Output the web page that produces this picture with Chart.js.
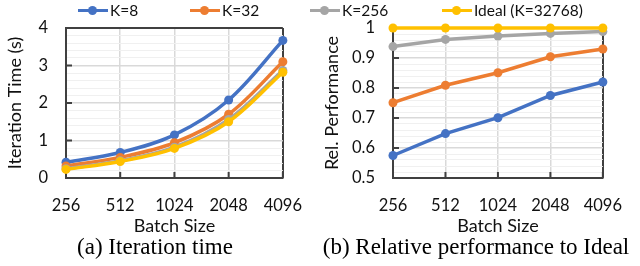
<!DOCTYPE html>
<html>
<head>
<meta charset="utf-8">
<script src="https://cdn.jsdelivr.net/npm/chart.js@4.4.1/dist/chart.umd.min.js"></script>
<style>
  html, body { margin: 0; padding: 0; background: #fff; }
  #fig { position: relative; width: 640px; height: 266px; overflow: hidden; font-family: Lato, sans-serif; }
  canvas { position: absolute; top: 0; }
  #legend { position: absolute; left: 0; top: 1px; width: 640px; height: 18px; font-size: 15.5px; color: #111; }
  .item { position: absolute; top: 0; display: flex; align-items: center; height: 18px; white-space: nowrap; }
  .swatch { position: relative; width: 30px; height: 3px; margin-right: 2px; }
  .swatch i { position: absolute; left: 10px; top: -3px; width: 9px; height: 9px; border-radius: 50%; background: inherit; }
  .cap { position: absolute; top: 234px; font-family: "Liberation Serif", serif; font-size: 23px; color: #000;
         white-space: nowrap; transform: translateX(-50%); }
</style>
</head>
<body>
<div id="fig">
  <canvas id="timeChart" width="320" height="240" style="left:0"></canvas>
  <canvas id="relChart" width="320" height="240" style="left:320px"></canvas>
  <div id="legend"></div>
  <div class="cap" style="left:155px">(a) Iteration time</div>
  <div class="cap" style="left:476px">(b) Relative performance to Ideal</div>
</div>
<script>
// batch sizes (x axis)
var batch_sizes = ["256", "512", "1024", "2048", "4096"];

// series names and colours
var series_names = ["K=8", "K=32", "K=256", "Ideal (K=32768)"];
var series_colors = ["#4472C4", "#ED7D31", "#A5A5A5", "#FFC000"];

// (a) iteration time in seconds
var time_k8 = [0.42, 0.68, 1.15, 2.08, 3.67];
var time_k32 = [0.32, 0.55, 0.94, 1.70, 3.10];
var time_k256 = [0.25, 0.46, 0.82, 1.56, 2.87];
var time_ideal = [0.23, 0.44, 0.79, 1.50, 2.82];

// (b) relative performance to ideal
var rel_k8 = [0.575, 0.648, 0.701, 0.775, 0.82];
var rel_k32 = [0.751, 0.809, 0.851, 0.904, 0.93];
var rel_k256 = [0.938, 0.962, 0.973, 0.982, 0.988];
var rel_ideal = [1, 1, 1, 1, 1];

var dark = "#404040";
var tickFont = { family: "Lato", size: 16.5 };
var titleFont = { family: "Lato", size: 18 };

// legend across both panels
var legend_left = [78, 190, 310, 442];
var legend = document.getElementById("legend");
series_names.forEach(function (name, i) {
    var item = document.createElement("div");
    item.className = "item";
    item.style.left = legend_left[i] + "px";
    item.innerHTML = '<span class="swatch" style="background:' + series_colors[i] + '"><i></i></span>' + name;
    legend.appendChild(item);
});

// short tick marks pointing into the plot
const innerTicks = {
    id: "innerTicks",
    beforeDatasetsDraw(chart, args, opts) {
        const { ctx, chartArea: a, scales: { x, y } } = chart;
        ctx.save();
        ctx.strokeStyle = dark;
        ctx.lineWidth = 2;
        ctx.beginPath();
        y.ticks.forEach((t, i) => {
            if (!opts.isMajor(t.value)) return;
            const py = y.getPixelForTick(i);
            ctx.moveTo(a.left, py);
            ctx.lineTo(a.left + 6, py);
        });
        x.ticks.forEach((t, i) => {
            const px = x.getPixelForTick(i);
            ctx.moveTo(px, a.bottom);
            ctx.lineTo(px, a.bottom - 6);
        });
        ctx.stroke();
        ctx.restore();
    },
};

function makeDatasets(values, tension) {
    return values.map((data, i) => ({
        label: series_names[i],
        data: data,
        borderColor: series_colors[i],
        backgroundColor: series_colors[i],
        pointBackgroundColor: series_colors[i],
        borderWidth: 3.5,
        pointRadius: 4.5,
        pointBorderWidth: 0,
        tension: tension,
        fill: false,
        clip: false,
        order: values.length - 1 - i,
    }));
}

function makeChart(id, values, tension, yMin, yMax, step, isMajor, fmt, yTitle, padLeft, yWidth, padRight) {
    const n = batch_sizes.length;
    return new Chart(document.getElementById(id), {
        type: "line",
        data: { labels: batch_sizes, datasets: makeDatasets(values, tension) },
        plugins: [innerTicks],
        options: {
            responsive: false,
            animation: false,
            layout: { padding: { left: padLeft, right: padRight, top: 28, bottom: 0 } },
            plugins: {
                legend: { display: false },
                tooltip: { enabled: false },
                innerTicks: { isMajor: isMajor },
            },
            scales: {
                x: {
                    offset: false,
                    grid: {
                        drawTicks: false,
                        color: (c) => (c.index === n - 1 ? dark : "#d9d9d9"),
                        lineWidth: (c) => (c.index === n - 1 ? 2 : 1.5),
                    },
                    border: { display: true, color: dark, width: 2 },
                    ticks: { font: tickFont, color: "#111", padding: 18, maxRotation: 0, autoSkip: false },
                    title: { display: true, text: "Batch Size", font: titleFont, color: "#111", padding: { top: 0, bottom: 3 } },
                    afterFit(s) { s.height = 62; },
                },
                y: {
                    min: yMin,
                    max: yMax,
                    grid: {
                        drawTicks: false,
                        color: (c) => (Math.abs(c.tick.value - yMax) < 1e-9 ? dark : isMajor(c.tick.value) ? "#d9d9d9" : "#f0f0f0"),
                        lineWidth: (c) => (Math.abs(c.tick.value - yMax) < 1e-9 ? 2 : isMajor(c.tick.value) ? 1.5 : 1),
                    },
                    border: { display: true, color: dark, width: 2 },
                    ticks: {
                        stepSize: step,
                        maxTicksLimit: 1000,
                        autoSkip: false,
                        font: tickFont,
                        color: "#111",
                        padding: 18,
                        callback: (v) => (isMajor(v) ? fmt(v) : ""),
                    },
                    title: { display: true, text: yTitle, font: titleFont, color: "#111", padding: 0 },
                    afterFit(s) { s.width = yWidth; },
                },
            },
        },
    });
}

makeChart("timeChart", [time_k8, time_k32, time_k256, time_ideal], 0.35, 0, 4, 0.2,
    (v) => Math.abs(v - Math.round(v)) < 1e-6, (v) => String(Math.round(v)),
    "Iteration Time (s)", 4, 62, 28);

makeChart("relChart", [rel_k8, rel_k32, rel_k256, rel_ideal], 0, 0.5, 1, 0.02,
    (v) => Math.abs(v * 10 - Math.round(v * 10)) < 1e-6, (v) => String(Math.round(v * 10) / 10),
    "Rel. Performance", 1, 72, 31);
</script>
</body>
</html>
